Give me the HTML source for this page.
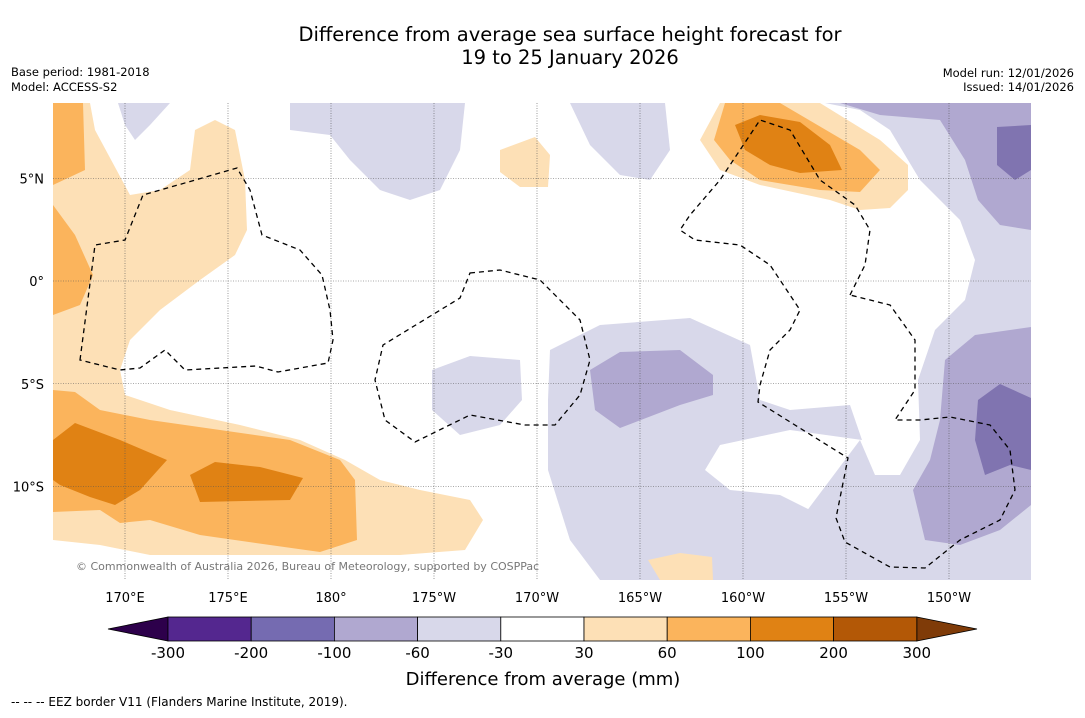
<!DOCTYPE html>
<html><head><meta charset="utf-8"><style>
body{margin:0;background:#fff;font-family:"Liberation Sans","DejaVu Sans",sans-serif}
svg text{font-family:"DejaVu Sans","Liberation Sans",sans-serif}
</style></head><body>
<svg id="s" width="1085" height="713" viewBox="0 0 1085 713">
<text x="570" y="41" font-size="19.5" text-anchor="middle">Difference from average sea surface height forecast for</text>
<text x="570" y="64" font-size="19.5" text-anchor="middle">19 to 25 January 2026</text>
<text x="11" y="76" font-size="11.5">Base period: 1981-2018</text>
<text x="11" y="91" font-size="11.5">Model: ACCESS-S2</text>
<text x="1074" y="77" font-size="11.5" text-anchor="end">Model run: 12/01/2026</text>
<text x="1074" y="91" font-size="11.5" text-anchor="end">Issued: 14/01/2026</text>
<defs><clipPath id="mc"><rect x="53" y="103" width="978" height="477"/></clipPath></defs>
<g clip-path="url(#mc)">
<rect x="53" y="103" width="978" height="477" fill="#fff"/>
<g stroke="none">
<polygon fill="#d8d8ea" points="290,103 465,103 460,150 440,190 410,200 380,190 350,160 330,135 290,130"/>
<polygon fill="#d8d8ea" points="118,103 170,103 150,125 135,140 125,125"/>
<polygon fill="#d8d8ea" points="570,103 665,103 670,150 650,180 620,175 590,145"/>
<polygon fill="#d8d8ea" points="825,103 1031,103 1031,580 860,580 840,545 800,520 860,440 875,475 900,475 920,440 918,380 935,330 965,300 975,260 960,220 920,180 890,130 860,110"/>
<polygon fill="#d8d8ea" points="550,350 600,325 690,318 750,345 760,400 790,410 850,405 862,440 790,430 720,445 705,470 730,490 780,495 810,510 850,540 860,580 600,580 570,540 548,470 548,400"/>
<polygon fill="#d8d8ea" points="432,370 470,356 520,360 522,400 500,425 460,435 432,410"/>
<polygon fill="#b0a8d0" points="590,370 620,352 680,350 713,375 713,395 680,405 620,428 595,410"/>
<polygon fill="#b0a8d0" points="840,103 1031,103 1031,230 1000,225 978,200 965,160 940,120 880,115"/>
<polygon fill="#b0a8d0" points="945,360 975,335 1031,327 1031,505 1000,530 960,545 925,540 913,490 930,460 940,420"/>
<polygon fill="#8074b0" points="997,127 1031,125 1031,170 1015,180 997,165"/>
<polygon fill="#8074b0" points="978,400 1000,384 1031,398 1031,470 1010,465 985,475 975,440"/>
<polygon fill="#fde0b6" points="53,103 90,103 95,130 130,195 160,190 190,170 195,130 215,120 235,130 245,180 247,230 235,255 200,280 160,310 130,340 120,370 125,395 170,410 240,425 300,440 345,460 380,480 420,490 470,500 483,520 465,550 400,555 300,555 220,555 150,555 100,545 53,540"/>
<polygon fill="#fde0b6" points="500,150 535,137 550,155 548,187 520,187 500,172"/>
<polygon fill="#fde0b6" points="700,140 720,103 820,103 880,140 908,165 908,190 890,208 860,210 830,200 760,185 720,170"/>
<polygon fill="#fde0b6" points="648,560 680,553 712,557 713,580 660,580"/>
<polygon fill="#fbb45c" points="53,103 83,103 85,170 53,185"/>
<polygon fill="#fbb45c" points="53,205 75,235 93,275 80,305 53,315"/>
<polygon fill="#fbb45c" points="53,390 75,392 100,410 150,420 220,430 290,440 340,460 355,480 357,540 320,552 270,545 200,535 150,520 120,523 100,510 53,512"/>
<polygon fill="#fbb45c" points="714,140 725,103 780,103 860,150 880,170 860,192 820,190 760,180 730,160"/>
<polygon fill="#e08214" points="53,440 75,423 120,440 167,460 140,490 115,505 90,497 60,485 53,480"/>
<polygon fill="#e08214" points="190,475 215,462 260,467 303,478 290,500 200,502"/>
<polygon fill="#e08214" points="735,125 760,115 800,122 830,145 842,170 800,173 770,165 745,150"/>
</g>
<g id="grid" stroke="#555" stroke-width="0.6" stroke-dasharray="1,1.5"></g>
<g fill="none" stroke="#000" stroke-width="1.3" stroke-dasharray="5,4">
<polygon points="80,360 95,245 125,240 143,195 237,168 250,190 262,235 300,250 322,275 330,310 333,340 328,363 278,372 256,366 185,370 165,350 140,368 120,370"/>
<polygon points="470,273 500,270 540,280 580,320 590,360 580,395 555,425 525,425 470,415 415,442 385,420 375,380 383,345 460,298"/>
<polyline points="850,295 865,265 870,230 855,205 820,180 790,130 760,120 740,150 720,180 690,215 680,230 695,240 740,245 770,265 800,310 790,330 770,350 760,385 758,402 848,458 836,518 845,542 890,567 925,568 960,540 1000,520 1015,490 1010,450 990,425 950,417 920,420 895,420 915,390 915,340 890,305 850,295"/>
</g>
</g>
<text x="76" y="570" font-size="11" fill="#777">© Commonwealth of Australia 2026, Bureau of Meteorology, supported by COSPPac</text>
<g id="axes" font-size="13"></g>
<g id="cbar"></g>
<text x="543" y="685" font-size="18" text-anchor="middle">Difference from average (mm)</text>
<text x="11" y="706" font-size="12">--  --  -- EEZ border V11 (Flanders Marine Institute, 2019).</text>
</svg>
<script>
const lonTicks=[170,175,180,-175,-170,-165,-160,-155,-150];
const lonLabels=["170°E","175°E","180°","175°W","170°W","165°W","160°W","155°W","150°W"];
const latTicks=[5,0,-5,-10];
const latLabels=["5°N","0°","5°S","10°S"];
const levels=["-300","-200","-100","-60","-30","30","60","100","200","300"];
const colors=["#54278f","#756bb1","#b0a8d0","#d8d8ea","#ffffff","#fde0b6","#fbb45c","#e08214","#b35806"];
const NS="http://www.w3.org/2000/svg";
function X(lon){const e=lon<0?lon+360:lon;return 125+(e-170)*20.6;}
function Y(lat){return 281-lat*20.55;}
function mk(t,a,p){const e=document.createElementNS(NS,t);for(const k in a)e.setAttribute(k,a[k]);p.appendChild(e);return e;}
const grid=document.getElementById('grid'),axes=document.getElementById('axes'),cb=document.getElementById('cbar');
lonTicks.forEach((l,i)=>{
const ln=mk('line',{x1:X(l),x2:X(l),y1:103,y2:580},grid);


const t=mk('text',{x:X(l),y:602,'text-anchor':'middle'},axes);t.textContent=lonLabels[i];


});
latTicks.forEach((l,i)=>{
const ln=mk('line',{x1:53,x2:1031,y1:Y(l),y2:Y(l)},grid);


const t=mk('text',{x:44,y:Y(l)+5,'text-anchor':'end'},axes);t.textContent=latLabels[i];


});
const x0=168,w=83.2,y0=617,h=24;
const l=mk('polygon',{points:`108,629 ${x0},${y0} ${x0},${y0+h}`,fill:'#2d004b',stroke:'#000','stroke-width':0.8},cb);


const xe=x0+w*colors.length;
const r=mk('polygon',{points:`${xe},${y0} 977,629 ${xe},${y0+h}`,fill:'#7f3b08',stroke:'#000','stroke-width':0.8},cb);


colors.forEach((c,i)=>{
const b=mk('rect',{x:x0+i*w,y:y0,width:w,height:h,fill:c,stroke:'#000','stroke-width':0.8},cb);


});
levels.forEach((v,i)=>{
const t=mk('text',{x:x0+i*w,y:658,'font-size':15,'text-anchor':'middle'},cb);t.textContent=v;


});
</script>
</body></html>
